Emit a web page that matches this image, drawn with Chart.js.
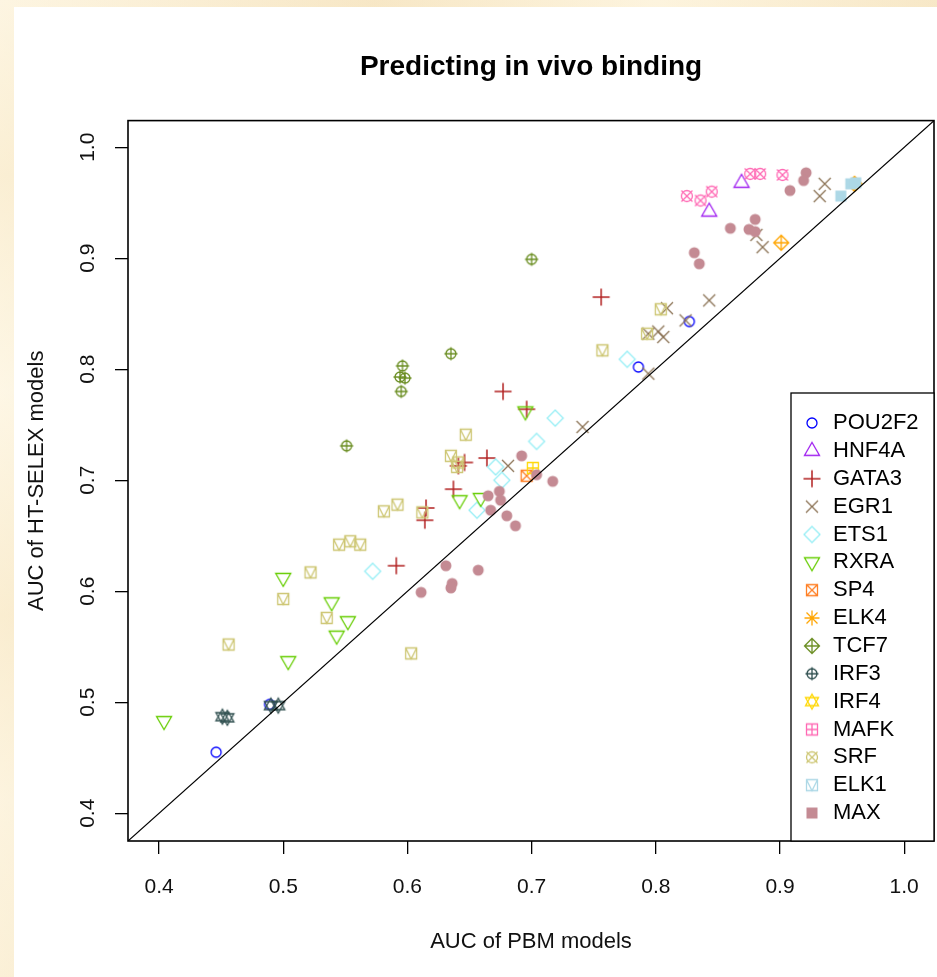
<!DOCTYPE html>
<html>
<head>
<meta charset="utf-8">
<title>Predicting in vivo binding</title>
<script src="https://cdn.jsdelivr.net/npm/chart.js@4.4.1/dist/chart.umd.min.js"></script>
<style>
  html, body { margin: 0; padding: 0; }
  body {
    width: 937px; height: 977px; overflow: hidden; position: relative;
    background:
      linear-gradient(90deg, rgba(255,250,235,0.5), rgba(240,215,165,0.35) 40%, rgba(255,248,228,0.5) 70%, rgba(242,220,175,0.4)),
      linear-gradient(180deg, #fbf0d8 0%, #f6e3bc 18%, #fcf3df 40%, #f5e0b6 63%, #faedd2 82%, #f7e6c3 100%);
  }
  #panel { position: absolute; left: 14px; top: 7px; right: 0; bottom: 0; background: #fff; }
  /* a few px wider than the window: the x scale keeps ~7px free on its right */
  #wrap { position: absolute; left: 0; top: 0; width: 941px; height: 977px; }
</style>
</head>
<body>
<div id="panel"></div>
<div id="wrap"><canvas id="bindingChart"></canvas></div>
<script>
// values: [AUC of PBM model, AUC of HT-SELEX model]
const POU2F2 = [[0.446,0.455],[0.489,0.498],[0.786,0.802],[0.827,0.843]];
const HNF4A = [[0.869,0.968],[0.843,0.942]];
const GATA3 = [[0.756,0.865],[0.677,0.780],[0.696,0.764],[0.664,0.720],[0.641,0.713],[0.646,0.716],
               [0.637,0.692],[0.615,0.675],[0.614,0.664],[0.591,0.623]];
const EGR1 = [[0.843,0.862],[0.809,0.855],[0.824,0.844],[0.802,0.834],[0.806,0.829],[0.794,0.832],
              [0.794,0.796],[0.741,0.748],[0.681,0.713],[0.936,0.967],[0.932,0.956],[0.881,0.921],[0.886,0.910]];
const ETS1 = [[0.719,0.756],[0.704,0.735],[0.777,0.809],[0.671,0.712],[0.676,0.700],[0.656,0.673],[0.572,0.618]];
const RXRA = [[0.695,0.762],[0.642,0.682],[0.659,0.684],[0.500,0.612],[0.539,0.590],[0.552,0.573],
              [0.543,0.560],[0.504,0.537],[0.404,0.483]];
const SP4 = [[0.696,0.704]];
const ELK4 = [[0.901,0.914],[0.960,0.967]];
const TCF7 = [[0.700,0.899],[0.635,0.814],[0.596,0.803],[0.594,0.793],[0.598,0.792],[0.595,0.780],[0.551,0.731]];
const IRF3 = [[0.451,0.487],[0.455,0.486],[0.490,0.497],[0.496,0.497]];
const IRF4 = [[0.701,0.711]];
const MAFK = [[0.825,0.956],[0.836,0.952],[0.845,0.960],[0.876,0.976],[0.884,0.976],[0.902,0.975]];
const SRF = [[0.804,0.854],[0.793,0.832],[0.757,0.817],[0.647,0.741],[0.635,0.722],[0.641,0.716],
             [0.640,0.712],[0.592,0.678],[0.581,0.672],[0.612,0.671],[0.545,0.642],[0.554,0.645],
             [0.562,0.642],[0.522,0.617],[0.500,0.593],[0.535,0.576],[0.456,0.552],[0.603,0.544]];
const ELK1 = [[0.957,0.967],[0.961,0.968],[0.949,0.956]];
const MAX = [[0.921,0.977],[0.919,0.970],[0.908,0.961],[0.880,0.935],[0.860,0.927],[0.875,0.926],
             [0.880,0.924],[0.831,0.905],[0.835,0.895],[0.692,0.722],[0.717,0.699],[0.665,0.686],
             [0.674,0.690],[0.675,0.682],[0.667,0.673],[0.680,0.668],[0.687,0.659],[0.631,0.623],
             [0.657,0.619],[0.636,0.607],[0.635,0.603],[0.611,0.599],[0.704,0.705]];

const factorNames = ['POU2F2','HNF4A','GATA3','EGR1','ETS1','RXRA','SP4','ELK4','TCF7','IRF3','IRF4','MAFK','SRF','ELK1','MAX'];
const factorData = [POU2F2, HNF4A, GATA3, EGR1, ETS1, RXRA, SP4, ELK4, TCF7, IRF3, IRF4, MAFK, SRF, ELK1, MAX];
const tickValues = [0.4, 0.5, 0.6, 0.7, 0.8, 0.9, 1.0];
const axisMin = 0.375, axisMax = 1.024;

// styling
const colors = ['#0000FF','#A020F0','#B22222','#8B7355','#97EEF5','#66CD00','#FF7F24','#FFA500',
                '#6B8E23','#2F4F4F','#FFD700','#FF69B4','#CDC673','#ADD8E6','#C48A93'];
// the plot and the legend don't use the same symbols (as in the original figure)
const plotShapes = ['circle','triUp','plus','cross','diamond','triDown','squareX','diamondPlus',
                    'circlePlus','star','squarePlus','circleX','squareV','squareFill','dot'];
const legendShapes = ['circle','triUp','plus','cross','diamond','triDown','squareX','asterisk',
                      'diamondPlus','circlePlus','star','squarePlus','circleX','squareV','squareFill'];
const FONT = "'Liberation Sans', Arial, Helvetica, sans-serif";

// draw an R-like plotting symbol into a little canvas, used as pointStyle
function makeSymbol(shape, color) {
    const size = 22;
    const c = document.createElement('canvas');
    c.width = size; c.height = size;
    const g = c.getContext('2d');
    g.translate(size / 2, size / 2);
    g.strokeStyle = color;
    g.fillStyle = color;
    g.lineWidth = 1.3;

    const line = (x1, y1, x2, y2) => { g.moveTo(x1, y1); g.lineTo(x2, y2); };
    const poly = pts => { g.moveTo(pts[0][0], pts[0][1]); pts.slice(1).forEach(p => g.lineTo(p[0], p[1])); g.closePath(); };

    g.beginPath();
    switch (shape) {
        case 'circle': g.arc(0, 0, 5, 0, 2 * Math.PI); break;
        case 'triUp': poly([[0,-8.5],[7.5,4.5],[-7.5,4.5]]); break;
        case 'triDown': poly([[0,8.5],[7.5,-4.5],[-7.5,-4.5]]); break;
        case 'plus': g.lineWidth = 1.5; line(-8.5,0,8.5,0); line(0,-8.5,0,8.5); break;
        case 'cross': line(-6,-6,6,6); line(-6,6,6,-6); break;
        case 'diamond': poly([[0,-8],[8,0],[0,8],[-8,0]]); break;
        case 'squareX': g.rect(-5.5,-5.5,11,11); line(-5.5,-5.5,5.5,5.5); line(-5.5,5.5,5.5,-5.5); break;
        case 'asterisk': line(-7.5,0,7.5,0); line(0,-7.5,0,7.5); line(-5.5,-5.5,5.5,5.5); line(-5.5,5.5,5.5,-5.5); break;
        case 'diamondPlus': poly([[0,-7.5],[7.5,0],[0,7.5],[-7.5,0]]); line(-7.5,0,7.5,0); line(0,-7.5,0,7.5); break;
        case 'circlePlus': g.arc(0, 0, 5, 0, 2 * Math.PI); line(-6.5,0,6.5,0); line(0,-6.5,0,6.5); break;
        case 'star':
            poly([[0,-7.5],[6.5,4],[-6.5,4]]);
            poly([[0,7.5],[6.5,-4],[-6.5,-4]]);
            break;
        case 'squarePlus': g.rect(-5.5,-5.5,11,11); line(-5.5,0,5.5,0); line(0,-5.5,0,5.5); break;
        case 'circleX': g.arc(0, 0, 5.5, 0, 2 * Math.PI); g.moveTo(-5.5,-5.5); g.lineTo(5.5,5.5); line(-5.5,5.5,5.5,-5.5); break;
        case 'squareV': g.rect(-5.5,-5.5,11,11); g.moveTo(-5.5,-5.5); g.lineTo(0,5.5); g.lineTo(5.5,-5.5); break;
        case 'squareFill': g.fillRect(-5.5,-5.5,11,11); return c;
        case 'dot': g.arc(0, 0, 5.5, 0, 2 * Math.PI); g.fill(); return c;
    }
    g.stroke();
    return c;
}

// box all around the plot region, like R's box()
const framePlugin = {
    id: 'frame',
    afterDatasetsDraw(chart) {
        const a = chart.chartArea, ctx = chart.ctx;
        ctx.save();
        ctx.strokeStyle = '#000';
        ctx.lineWidth = 1.6;
        ctx.strokeRect(a.left, a.top, a.right - a.left, a.bottom - a.top);
        ctx.restore();
    }
};

// legend in the bottom right corner of the plot
const legendPlugin = {
    id: 'rLegend',
    afterDraw(chart) {
        const a = chart.chartArea, ctx = chart.ctx;
        const w = 143, h = 448;
        const left = a.right - w, top = a.bottom - h;
        ctx.save();
        ctx.fillStyle = '#fff';
        ctx.fillRect(left, top, w, h);
        ctx.strokeStyle = '#000';
        ctx.lineWidth = 1.3;
        ctx.strokeRect(left, top, w, h);
        ctx.font = '22px ' + FONT;
        ctx.textBaseline = 'middle';
        ctx.fillStyle = '#000';
        factorNames.forEach((name, i) => {
            const y = top + 30 + i * 27.86;
            const sym = makeSymbol(legendShapes[i], colors[i]);
            ctx.drawImage(sym, left + 21 - sym.width / 2, y - sym.height / 2);
            ctx.fillText(name, left + 42, y);
        });
        ctx.restore();
    }
};

const datasets = factorNames.map((name, i) => ({
    type: 'scatter',
    label: name,
    data: factorData[i].map(p => ({ x: p[0], y: p[1] })),
    pointStyle: makeSymbol(plotShapes[i], colors[i]),
    pointRadius: 6,
    order: factorNames.length - i   // later factors on top, as R draws them
}));

// the y = x reference line
datasets.push({
    type: 'line',
    label: 'diagonal',
    data: [{ x: axisMin, y: axisMin }, { x: axisMax, y: axisMax }],
    borderColor: '#000',
    borderWidth: 1.2,
    pointRadius: 0,
    order: 0
});

function fixedTicks(scale) {
    scale.ticks = tickValues.map(v => ({ value: v }));
}

const tickFont = { family: FONT, size: 21 };
const axisTitleFont = { family: FONT, size: 22 };

new Chart(document.getElementById('bindingChart'), {
    data: { datasets: datasets },
    options: {
        responsive: true,
        maintainAspectRatio: false,
        animation: false,
        events: [],
        layout: { padding: { left: 0, right: 0, top: 0, bottom: 0 } },
        plugins: {
            legend: { display: false },
            tooltip: { enabled: false },
            title: {
                display: true,
                text: 'Predicting in vivo binding',
                fullSize: false,
                color: '#000',
                font: { family: FONT, size: 28, weight: 'bold' },
                padding: { top: 50, bottom: 37 }
            }
        },
        scales: {
            x: {
                type: 'linear',
                min: axisMin,
                max: axisMax,
                afterBuildTicks: fixedTicks,
                afterFit: s => { s.height = 136; },
                border: { display: false },
                grid: { drawOnChartArea: false, drawTicks: true, tickLength: 13, color: '#000', lineWidth: 1.3 },
                ticks: { color: '#111', font: tickFont, padding: 21, maxRotation: 0, callback: v => v.toFixed(1) },
                title: { display: true, text: 'AUC of PBM models', color: '#111', font: axisTitleFont, padding: { top: 0, bottom: 22 } }
            },
            y: {
                type: 'linear',
                min: axisMin,
                max: axisMax,
                afterBuildTicks: fixedTicks,
                afterFit: s => { s.width = 128; },
                border: { display: false },
                grid: { drawOnChartArea: false, drawTicks: true, tickLength: 13, color: '#000', lineWidth: 1.3 },
                ticks: { color: '#111', font: tickFont, padding: 12, minRotation: 90, maxRotation: 90,
                         crossAlign: 'center', callback: v => v.toFixed(1) },
                title: { display: true, text: 'AUC of HT-SELEX models', color: '#111', font: axisTitleFont, padding: { top: 24, bottom: 0 } }
            }
        }
    },
    plugins: [framePlugin, legendPlugin]
});
</script>
</body>
</html>
